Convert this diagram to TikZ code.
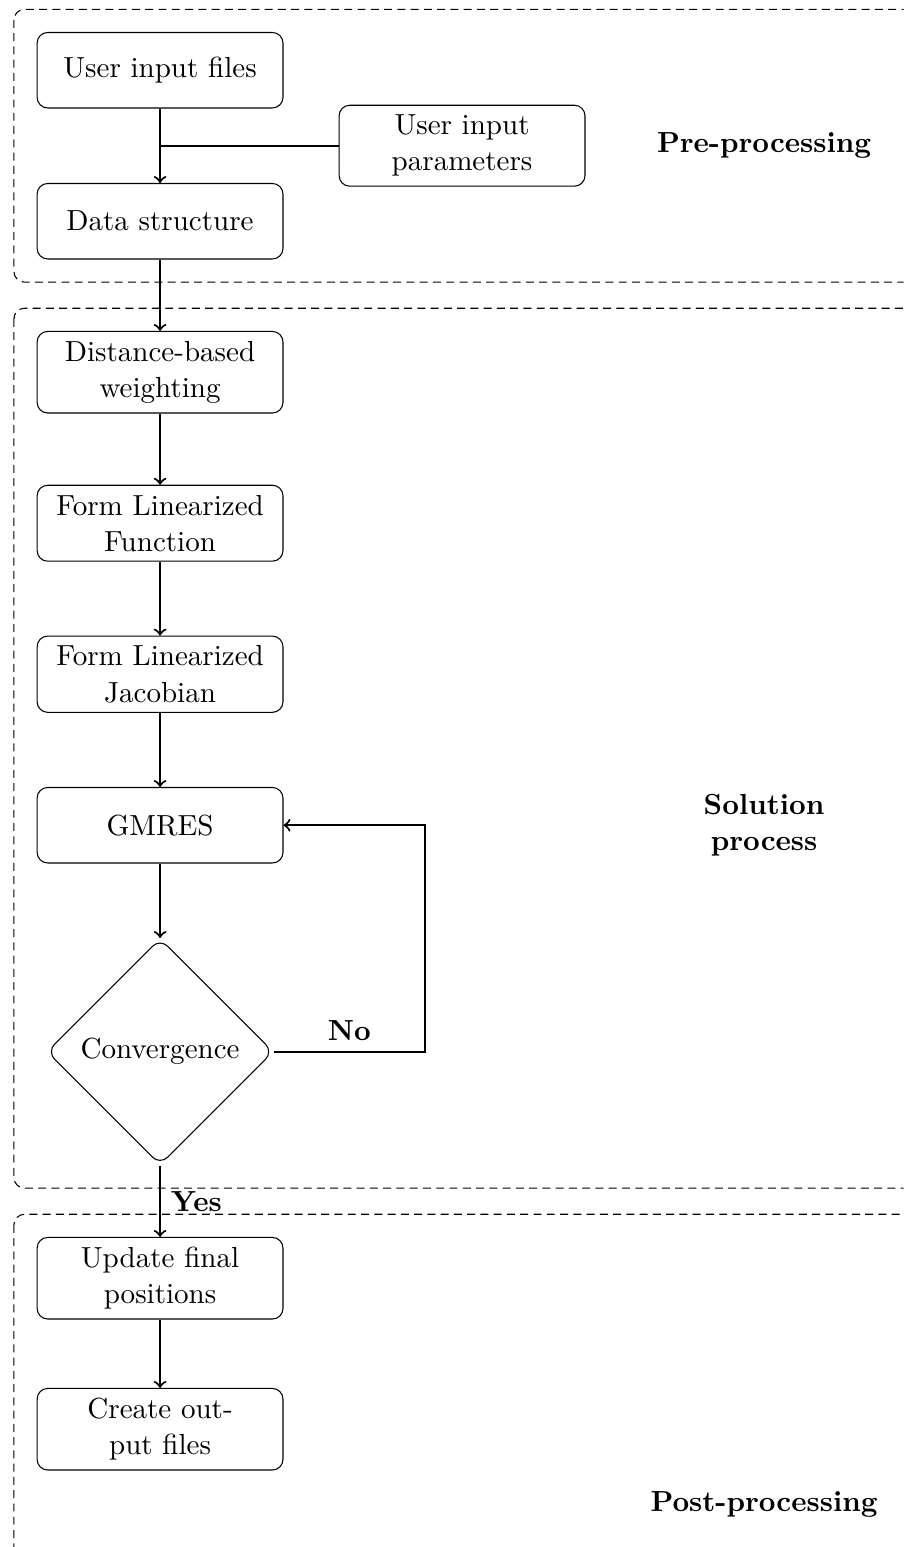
\documentclass[11pt,tikz,border=0pt]{standalone}
\usepackage{xcolor}
\usetikzlibrary{shapes.geometric,arrows,positioning,calc}
\tikzset{%
  processBox/.style={%
    rectangle,
    rounded corners,
    draw=black,
    text width=3cm,
    minimum height=1cm,
    align=center
  },
  decisionBox/.style={%
    diamond,
    rounded corners,
    draw=black,
    minimum width=3cm,
    minimum height=3cm,
    align=center
  },
  arrowLine/.style={%
    ->,
    thick
  },
  plainLine/.style={%
    thick
  },
  groupBox/.style={%
    dash pattern=on 3pt off 2pt,
    rounded corners
  },
  stageLabel/.style={%
    font=\bfseries,
    align=center
  }
}
\begin{document}
\begin{tikzpicture}[node distance=2cm, on grid]
            \useasboundingbox (-2.12,0.93) rectangle (9.85,-19.56);
            \clip (-2.12,0.93) rectangle (9.85,-19.56);

            \node[processBox] (inFiles) {User input files};
            \node[processBox, below right=1cm and 4cm of inFiles] (inParams) {User input parameters};
            \node[processBox, below=of inFiles] (dataStruct) {Data structure};
            \node[processBox, below=of dataStruct] (weighting) {Distance-based weighting};
            \node[processBox, below=of weighting] (linFunc) {Form Linearized Function};
            \node[processBox, below=of linFunc] (linJac) {Form Linearized Jacobian};
            \node[processBox, below=of linJac] (gmres) {GMRES};
            \node[decisionBox, below=3cm of gmres] (converge) {Convergence};
            \node[processBox, below=3cm of converge] (finalPos) {Update final positions};
            \node[processBox, below=of finalPos] (outFiles) {Create output files};

            \node[stageLabel, right=4cm of inParams] (preLabel) {Pre-processing};
            \node[stageLabel, right=8cm of gmres] (solLabel) {Solution\\process};
            \node[stageLabel, below right=1cm and 8cm of outFiles] (postLabel) {Post-processing};

            \draw[arrowLine] (inFiles) -- (dataStruct);
            \draw[plainLine] (inParams) -- (inParams -| inFiles);
            \draw[arrowLine] (dataStruct) -- (weighting);
            \draw[arrowLine] (weighting) -- (linFunc);
            \draw[arrowLine] (linFunc) -- (linJac);
            \draw[arrowLine] (linJac) -- (gmres);
            \draw[arrowLine] (gmres) -- (converge);
            \draw[arrowLine] (converge.east) -- node[above]{\textbf{No}} ++(2,0) |- (gmres);
            \draw[arrowLine] (converge) -- node[right]{\textbf{Yes}} (finalPos);
            \draw[arrowLine] (finalPos) -- (outFiles);

            % stage frames
            \draw[groupBox] ($(inFiles.north west)+(-0.3,0.3)$) rectangle ($(dataStruct.south)+(11,-0.3)$);
            \draw[groupBox] ($(weighting.north west)+(-0.3,0.3)$) rectangle ($(converge.south)+(11,-0.3)$);
            \draw[groupBox] ($(finalPos.north west)+(-0.3,0.3)$) rectangle ($(outFiles.south)+(11,-2)$);
        \end{tikzpicture}
\end{document}
